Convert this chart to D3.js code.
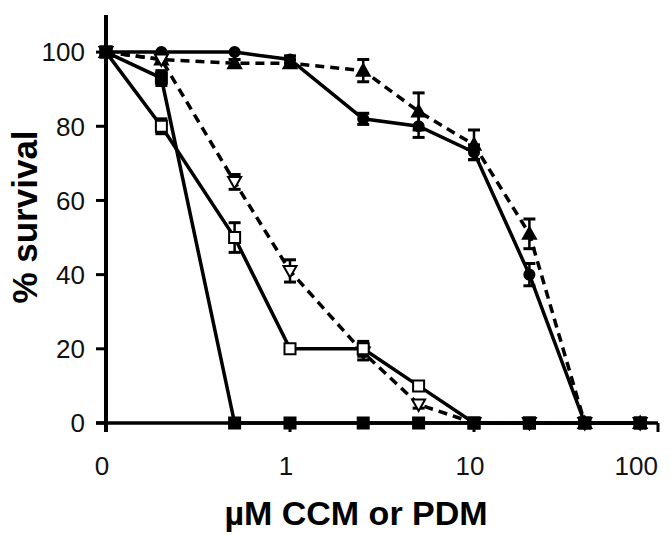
<!DOCTYPE html>
<html>
<head>
<meta charset="utf-8">
<script src="https://cdn.jsdelivr.net/npm/d3@7"></script>
<style>
  body { margin: 0; background: #fff; }
  svg { display: block; font-family: Arial, "Liberation Sans", sans-serif; }
</style>
</head>
<body>
<svg class="chart"></svg>
<script>
// doses in uM; 0.1 stands for the "0" control on the log axis
var doses = [0.1, 0.2, 0.5, 1, 2.5, 5, 10, 20, 40, 80];

var filledSquare   = [100, 93, 0, 0, 0, 0, 0, 0, 0, 0];
var filledSquareSd = [0, 2, 0, 0, 0, 0, 0, 0, 0, 0];

var openSquare   = [100, 80, 50, 20, 20, 10, 0, 0, 0, 0];
var openSquareSd = [0, 2, 4, 1, 2, 1, 0, 0, 0, 0];

var openTri   = [100, 98, 65, 41, 19, 5, 0, 0, 0, 0];
var openTriSd = [0, 1, 2, 3, 2, 1, 0, 0, 0, 0];

var filledCircle   = [100, 100, 100, 98, 82, 80, 73, 40, 0, null];
var filledCircleSd = [0, 0, 0, 1, 1.5, 3, 2, 3, 0, 0];

var filledTri   = [100, 98, 97, 97, 95, 84, 75, 51, 0, 0];
var filledTriSd = [0, 1, 1, 1, 3, 5, 4, 4, 0, 0];

var xTicks = [0.1, 1, 10, 100];
var xTickLabels = ["0", "1", "10", "100"];
var yTicks = [0, 20, 40, 60, 80, 100];

var series = [
  {name: "filledCircle", values: filledCircle, sd: filledCircleSd, shape: "circle", fill: "#000", dash: null},
  {name: "filledTri", values: filledTri, sd: filledTriSd, shape: "triUp", fill: "#000", dash: "9,6"},
  {name: "openTri", values: openTri, sd: openTriSd, shape: "triDown", fill: "#fff", dash: "9,6"},
  {name: "openSquare", values: openSquare, sd: openSquareSd, shape: "square", fill: "#fff", dash: null},
  {name: "filledSquare", values: filledSquare, sd: filledSquareSd, shape: "square", fill: "#000", dash: null}
];

var width = 671, height = 535;
var svg = d3.select(".chart").attr("width", width).attr("height", height);

var x = d3.scaleLog().domain([0.1, 100]).range([106, 658]);
var y = d3.scaleLinear().domain([0, 110]).range([423, 15]);

// axes
var axisG = svg.append("g");
axisG.append("line")
  .attr("x1", x(0.1)).attr("x2", x(0.1))
  .attr("y1", y(110)).attr("y2", y(0) + 9)
  .attr("stroke", "#000").attr("stroke-width", 4);
axisG.append("line")
  .attr("x1", x(0.1) - 10).attr("x2", x(100))
  .attr("y1", y(0)).attr("y2", y(0))
  .attr("stroke", "#000").attr("stroke-width", 3.5);

axisG.selectAll(".ytick").data(yTicks).enter().append("line")
  .attr("x1", x(0.1) - 10).attr("x2", x(0.1))
  .attr("y1", function(d) { return y(d); })
  .attr("y2", function(d) { return y(d); })
  .attr("stroke", "#000").attr("stroke-width", 3);

axisG.selectAll(".ylab").data(yTicks).enter().append("text")
  .attr("x", x(0.1) - 21)
  .attr("y", function(d) { return y(d); })
  .attr("dy", "0.36em")
  .attr("text-anchor", "end")
  .attr("font-size", 26)
  .attr("fill", "#111")
  .text(function(d) { return d; });

axisG.selectAll(".xtick").data(xTicks).enter().append("line")
  .attr("x1", function(d) { return x(d); })
  .attr("x2", function(d) { return x(d); })
  .attr("y1", y(0)).attr("y2", y(0) + 9)
  .attr("stroke", "#000").attr("stroke-width", 3);

axisG.selectAll(".xlab").data(xTicks).enter().append("text")
  .attr("x", function(d, i) { return x(d) - (i === xTicks.length - 1 ? 0 : 4); })
  .attr("y", y(0) + 52)
  .attr("text-anchor", function(d, i) { return i === xTicks.length - 1 ? "end" : "middle"; })
  .attr("font-size", 26)
  .attr("fill", "#111")
  .text(function(d, i) { return xTickLabels[i]; });

svg.append("text")
  .attr("x", 356).attr("y", 525)
  .attr("text-anchor", "middle")
  .attr("font-size", 34).attr("font-weight", "bold")
  .text("\u00b5M CCM or PDM");

svg.append("text")
  .attr("transform", "translate(37," + 217 + ") rotate(-90)")
  .attr("text-anchor", "middle")
  .attr("font-size", 35).attr("font-weight", "bold")
  .text("% survival");

// lines
var line = d3.line()
  .defined(function(d) { return d.v !== null; })
  .x(function(d) { return x(d.x); })
  .y(function(d) { return y(d.v); });

function pts(s) {
  return doses.map(function(dd, i) { return {x: dd, v: s.values[i], sd: s.sd[i]}; });
}

var gS = svg.selectAll(".series").data(series).enter().append("g");

gS.append("path")
  .attr("d", function(s) { return line(pts(s)); })
  .attr("fill", "none")
  .attr("stroke", "#000")
  .attr("stroke-width", 3.5)
  .attr("stroke-dasharray", function(s) { return s.dash; });

// error bars and markers
gS.each(function(s) {
  var g = d3.select(this);
  var eb = pts(s).filter(function(p) { return p.v !== null && p.sd > 0; });
  var e = g.selectAll(".err").data(eb).enter().append("g");
  e.append("line")
    .attr("x1", function(p) { return x(p.x); }).attr("x2", function(p) { return x(p.x); })
    .attr("y1", function(p) { return y(p.v + p.sd); })
    .attr("y2", function(p) { return y(p.v - p.sd); })
    .attr("stroke", "#000").attr("stroke-width", 2.5);
  [1, -1].forEach(function(sign) {
    e.append("line")
      .attr("x1", function(p) { return x(p.x) - 6; }).attr("x2", function(p) { return x(p.x) + 6; })
      .attr("y1", function(p) { return y(p.v + sign * p.sd); })
      .attr("y2", function(p) { return y(p.v + sign * p.sd); })
      .attr("stroke", "#000").attr("stroke-width", 3);
  });

  g.selectAll(".mk").data(pts(s).filter(function(p) { return p.v !== null; }))
    .enter().append("path")
    .attr("transform", function(p) { return "translate(" + x(p.x) + "," + y(p.v) + ")"; })
    .attr("fill", s.fill)
    .attr("stroke", "#000")
    .attr("stroke-width", 2)
    .attr("d", function() {
      if (s.shape === "circle") return d3.symbol(d3.symbolCircle, 80)();
      if (s.shape === "square") return "M-5.5,-5.5H5.5V5.5H-5.5Z";
      if (s.shape === "triUp") return "M0,-6.5L6.5,5H-6.5Z";
      return "M-6.5,-5H6.5L0,6.5Z";
    });
});
</script>
</body>
</html>
